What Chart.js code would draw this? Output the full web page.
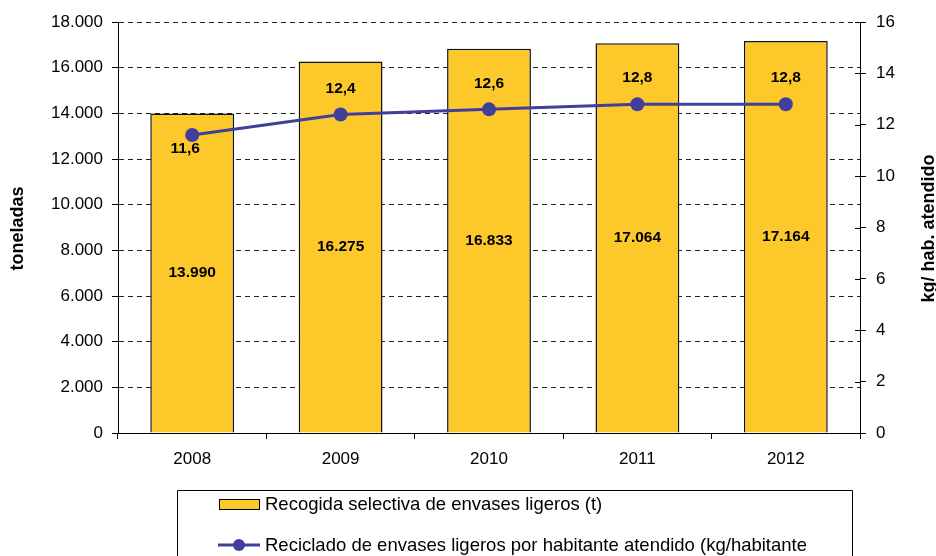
<!DOCTYPE html>
<html>
<head>
<meta charset="utf-8">
<script src="https://cdn.jsdelivr.net/npm/chart.js@4/dist/chart.umd.min.js"></script>
<style>
  body { margin: 0; background: #fff; }
  canvas { display: block; }
</style>
</head>
<body>
<canvas id="chart" width="936" height="556"></canvas>
<script>
const years = ["2008", "2009", "2010", "2011", "2012"];
const toneladas = [13990, 16275, 16833, 17064, 17164];
const kgHab = [11.6, 12.4, 12.6, 12.8, 12.8];
const leftTitle = "toneladas";
const rightTitle = "kg/ hab. atendido";
const barLabel = "Recogida selectiva de envases ligeros (t)";
const lineLabel = "Reciclado de envases ligeros por habitante atendido (kg/habitante";

const FONT = "'Liberation Sans', Arial, sans-serif";
const YELLOW = "#FDC82A";
const BLUE = "#3F3F9E";

const fmtMiles = (v) => String(v).replace(/\B(?=(\d{3})+(?!\d))/g, ".");
const fmtDec = (v) => v.toFixed(1).replace(".", ",");

// labels, titles, inner right ticks and the boxed legend
const extras = {
  id: "extras",
  afterDatasetsDraw(chart) {
    const ctx = chart.ctx;
    ctx.save();
    ctx.fillStyle = "#000";
    ctx.font = "bold 15.5px " + FONT;
    ctx.textAlign = "center";
    ctx.textBaseline = "middle";
    // dataset 1 = bars, dataset 0 = line
    chart.getDatasetMeta(1).data.forEach((bar, i) => {
      ctx.fillText(fmtMiles(toneladas[i]), bar.x, (bar.y + bar.base) / 2);
    });
    chart.getDatasetMeta(0).data.forEach((pt, i) => {
      if (i === 0) ctx.fillText(fmtDec(kgHab[i]), pt.x - 7, pt.y + 14);
      else ctx.fillText(fmtDec(kgHab[i]), pt.x, pt.y - 26);
    });
    ctx.restore();
  },
  afterDraw(chart) {
    const ctx = chart.ctx;
    const area = chart.chartArea;
    const y2 = chart.scales.y2;
    ctx.save();
    // inner half of right axis ticks
    ctx.strokeStyle = "#000";
    ctx.lineWidth = 1;
    y2.ticks.forEach((t) => {
      const y = Math.round(y2.getPixelForValue(t.value)) + 0.5;
      ctx.beginPath();
      ctx.moveTo(area.right - 5, y);
      ctx.lineTo(area.right, y);
      ctx.stroke();
    });

    // axis titles
    ctx.fillStyle = "#000";
    ctx.font = "bold 18px " + FONT;
    ctx.textAlign = "center";
    ctx.textBaseline = "middle";
    const midY = (area.top + area.bottom) / 2 + 1;
    ctx.save();
    ctx.translate(18, midY);
    ctx.rotate(-Math.PI / 2);
    ctx.fillText(leftTitle, 0, 0);
    ctx.restore();
    ctx.save();
    ctx.translate(929, midY);
    ctx.rotate(-Math.PI / 2);
    ctx.fillText(rightTitle, 0, 0);
    ctx.restore();

    // legend box
    ctx.strokeStyle = "#000";
    ctx.lineWidth = 1;
    ctx.beginPath();
    ctx.moveTo(177.5, 560);
    ctx.lineTo(177.5, 490.5);
    ctx.lineTo(852.5, 490.5);
    ctx.lineTo(852.5, 560);
    ctx.stroke();

    ctx.fillStyle = YELLOW;
    ctx.fillRect(219.5, 499.5, 40, 10);
    ctx.strokeRect(219.5, 499.5, 40, 10);

    ctx.strokeStyle = BLUE;
    ctx.lineWidth = 3;
    ctx.beginPath();
    ctx.moveTo(218, 545);
    ctx.lineTo(260, 545);
    ctx.stroke();
    ctx.fillStyle = BLUE;
    ctx.beginPath();
    ctx.arc(239, 545, 6, 0, Math.PI * 2);
    ctx.fill();

    ctx.fillStyle = "#000";
    ctx.font = "18.5px " + FONT;
    ctx.textAlign = "left";
    ctx.fillText(barLabel, 265, 505);
    ctx.fillText(lineLabel, 265, 546);
    ctx.restore();
  }
};

new Chart(document.getElementById("chart"), {
  data: {
    labels: years,
    datasets: [
      {
        type: "line",
        label: lineLabel,
        data: kgHab,
        yAxisID: "y2",
        borderColor: BLUE,
        backgroundColor: BLUE,
        borderWidth: 3,
        pointRadius: 7,
        pointHoverRadius: 7,
        pointBorderWidth: 0,
        tension: 0,
        order: 0
      },
      {
        type: "bar",
        label: barLabel,
        data: toneladas,
        yAxisID: "y",
        backgroundColor: YELLOW,
        borderColor: "#111",
        borderWidth: 1.5,
        barPercentage: 0.565,
        categoryPercentage: 1,
        order: 1
      }
    ]
  },
  options: {
    responsive: false,
    animation: false,
    events: [],
    layout: { padding: { top: 22, left: 0, right: 0, bottom: 0 } },
    plugins: { legend: { display: false }, tooltip: { enabled: false } },
    scales: {
      x: {
        offset: true,
        grid: {
          offset: true,
          drawOnChartArea: false,
          drawTicks: true,
          tickLength: 6,
          tickColor: "#000"
        },
        border: { color: "#000", width: 1 },
        ticks: {
          color: "#000",
          font: { family: FONT, size: 17 },
          padding: 10,
          maxRotation: 0
        },
        afterFit: (s) => { s.height = 123; }
      },
      y: {
        position: "left",
        min: 0,
        max: 18000,
        ticks: {
          stepSize: 2000,
          color: "#000",
          font: { family: FONT, size: 17 },
          padding: 9,
          callback: (v) => fmtMiles(v)
        },
        grid: {
          color: "#222",
          tickColor: "#000",
          tickLength: 6,
          tickBorderDash: [],
          lineWidth: 1
        },
        border: { color: "#000", width: 1, dash: [5, 4] },
        afterFit: (s) => { s.width = 118; }
      },
      y2: {
        position: "right",
        min: 0,
        max: 16,
        ticks: {
          stepSize: 2,
          color: "#000",
          font: { family: FONT, size: 17 },
          padding: 10
        },
        grid: {
          drawOnChartArea: false,
          tickColor: "#000",
          tickLength: 6
        },
        border: { color: "#000", width: 1 },
        afterFit: (s) => { s.width = 76; }
      }
    }
  },
  plugins: [extras]
});
</script>
</body>
</html>
